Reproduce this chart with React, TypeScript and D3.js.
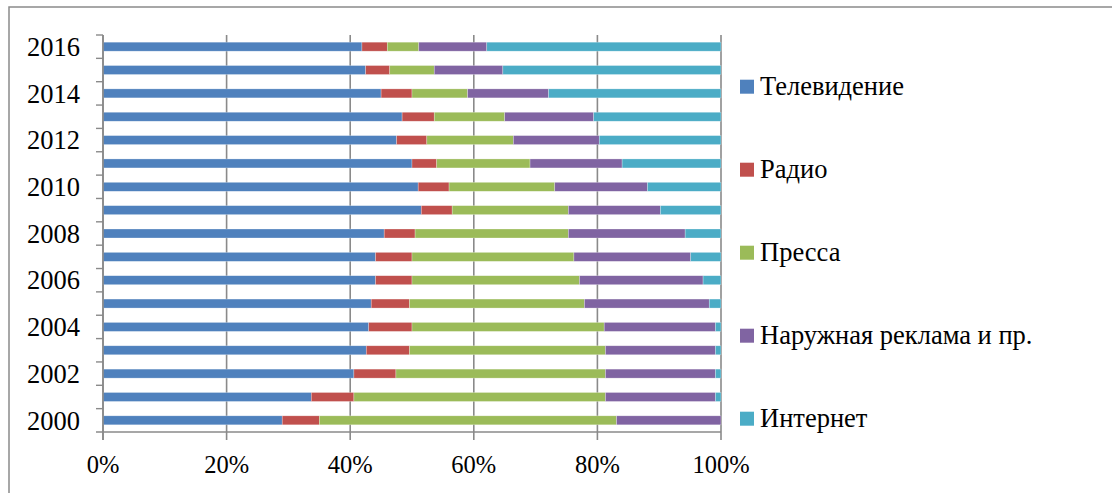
import React from 'react';
import { scaleLinear, scaleBand, stack, stackOffsetExpand } from 'd3';

const years = ['2000', '2001', '2002', '2003', '2004', '2005', '2006', '2007', '2008',
  '2009', '2010', '2011', '2012', '2013', '2014', '2015', '2016'];

const seriesNames = ['Телевидение', 'Радио', 'Пресса', 'Наружная реклама и пр.', 'Интернет'];
const seriesColors = ['#4F81BD', '#C0504D', '#9BBB59', '#8064A2', '#4BACC6'];

// shares in %
const tv = [29.0, 33.7, 40.6, 42.6, 43.0, 43.4, 44.1, 44.1, 45.5, 51.5, 51.0, 50.0, 47.5, 48.4, 45.0, 42.5, 41.9];
const radio = [6.0, 6.9, 6.8, 7.0, 7.0, 6.2, 5.9, 5.9, 5.0, 5.0, 5.0, 4.0, 4.9, 5.2, 5.0, 3.9, 4.1];
const press = [48.1, 40.7, 33.9, 31.7, 31.1, 28.3, 27.1, 26.2, 24.8, 18.8, 17.1, 15.1, 14.0, 11.4, 9.0, 7.2, 5.1];
const outdoor = [16.9, 17.8, 17.8, 17.8, 18.0, 20.2, 20.0, 18.9, 18.9, 14.9, 15.0, 14.9, 13.9, 14.4, 13.1, 11.1, 11.0];
const internet = [0, 0.9, 0.9, 0.9, 0.9, 1.9, 2.9, 4.9, 5.8, 9.8, 11.9, 16.0, 19.7, 20.6, 27.9, 35.3, 37.9];

const xTicks = [0, 0.2, 0.4, 0.6, 0.8, 1];

const W = 1112;
const H = 493;
const margin = { left: 103, right: 391, top: 35, bottom: 61 };
const font = '"Liberation Serif", "Times New Roman", serif';
const grid = '#8a8a8a';

export default function App() {
  const rows = years.map((y, i) => ({
    year: y,
    [seriesNames[0]]: tv[i],
    [seriesNames[1]]: radio[i],
    [seriesNames[2]]: press[i],
    [seriesNames[3]]: outdoor[i],
    [seriesNames[4]]: internet[i],
  }));

  const layers = stack<any>().keys(seriesNames).offset(stackOffsetExpand)(rows);

  const x = scaleLinear().domain([0, 1]).range([margin.left, W - margin.right]);
  // 2000 at the bottom
  const y = scaleBand<string>()
    .domain([...years].reverse())
    .range([margin.top, H - margin.bottom])
    .paddingInner(0.615)
    .paddingOuter(0.3075);
  const band = (H - margin.bottom - margin.top) / years.length;
  const yBottom = H - margin.bottom;

  return (
    <div style={{ position: 'absolute', left: 0, top: 0 }}>
      <svg width={W} height={H} style={{ display: 'block', background: '#fff' }}>
        <rect x={9} y={7} width={W + 20} height={H + 20} fill="none" stroke={grid} strokeWidth={1.5} />

        {/* vertical gridlines */}
        {xTicks.map(t => (
          <line key={t} x1={x(t)} x2={x(t)} y1={margin.top} y2={yBottom + 8} stroke={grid} strokeWidth={1.6} />
        ))}

        {/* bars */}
        {layers.map((layer, li) => (
          <g key={layer.key} fill={seriesColors[li]}>
            {layer.map((d, i) => (
              <rect
                key={i}
                x={x(d[0])}
                y={y(years[i])}
                width={Math.max(0, x(d[1]) - x(d[0]))}
                height={y.bandwidth()}
                stroke="rgba(255,255,255,0.45)"
                strokeWidth={0.6}
              />
            ))}
          </g>
        ))}

        {/* axes */}
        <line x1={x(0)} x2={x(0)} y1={margin.top} y2={yBottom + 8} stroke={grid} strokeWidth={1.6} />
        <line x1={x(0) - 7} x2={x(1)} y1={yBottom} y2={yBottom} stroke={grid} strokeWidth={1.6} />
        {years.map((yr, i) => (
          <line key={yr} x1={x(0) - 7} x2={x(0)} y1={margin.top + band * i} y2={margin.top + band * i} stroke={grid} strokeWidth={1.4} />
        ))}

        {/* year labels (every second) */}
        {years.filter((_, i) => i % 2 === 0).map(yr => (
          <text key={yr} x={80} y={(y(yr) as number) + y.bandwidth() / 2} dy="0.35em" textAnchor="end"
            fontFamily={font} fontSize={26.5} fill="#000">{yr}</text>
        ))}

        {/* x labels */}
        {xTicks.map(t => (
          <text key={t} x={x(t)} y={473} textAnchor="middle" fontFamily={font} fontSize={24.5} fill="#000">
            {Math.round(t * 100)}%
          </text>
        ))}

        {/* legend */}
        {seriesNames.map((name, i) => {
          const cy = 86.7 + i * 83;
          return (
            <g key={name}>
              <rect x={740} y={cy - 7} width={14} height={14} fill={seriesColors[i]} />
              <text x={760} y={cy} dy="0.33em" fontFamily={font} fontSize={26.5} fill="#000">{name}</text>
            </g>
          );
        })}
      </svg>
    </div>
  );
}
